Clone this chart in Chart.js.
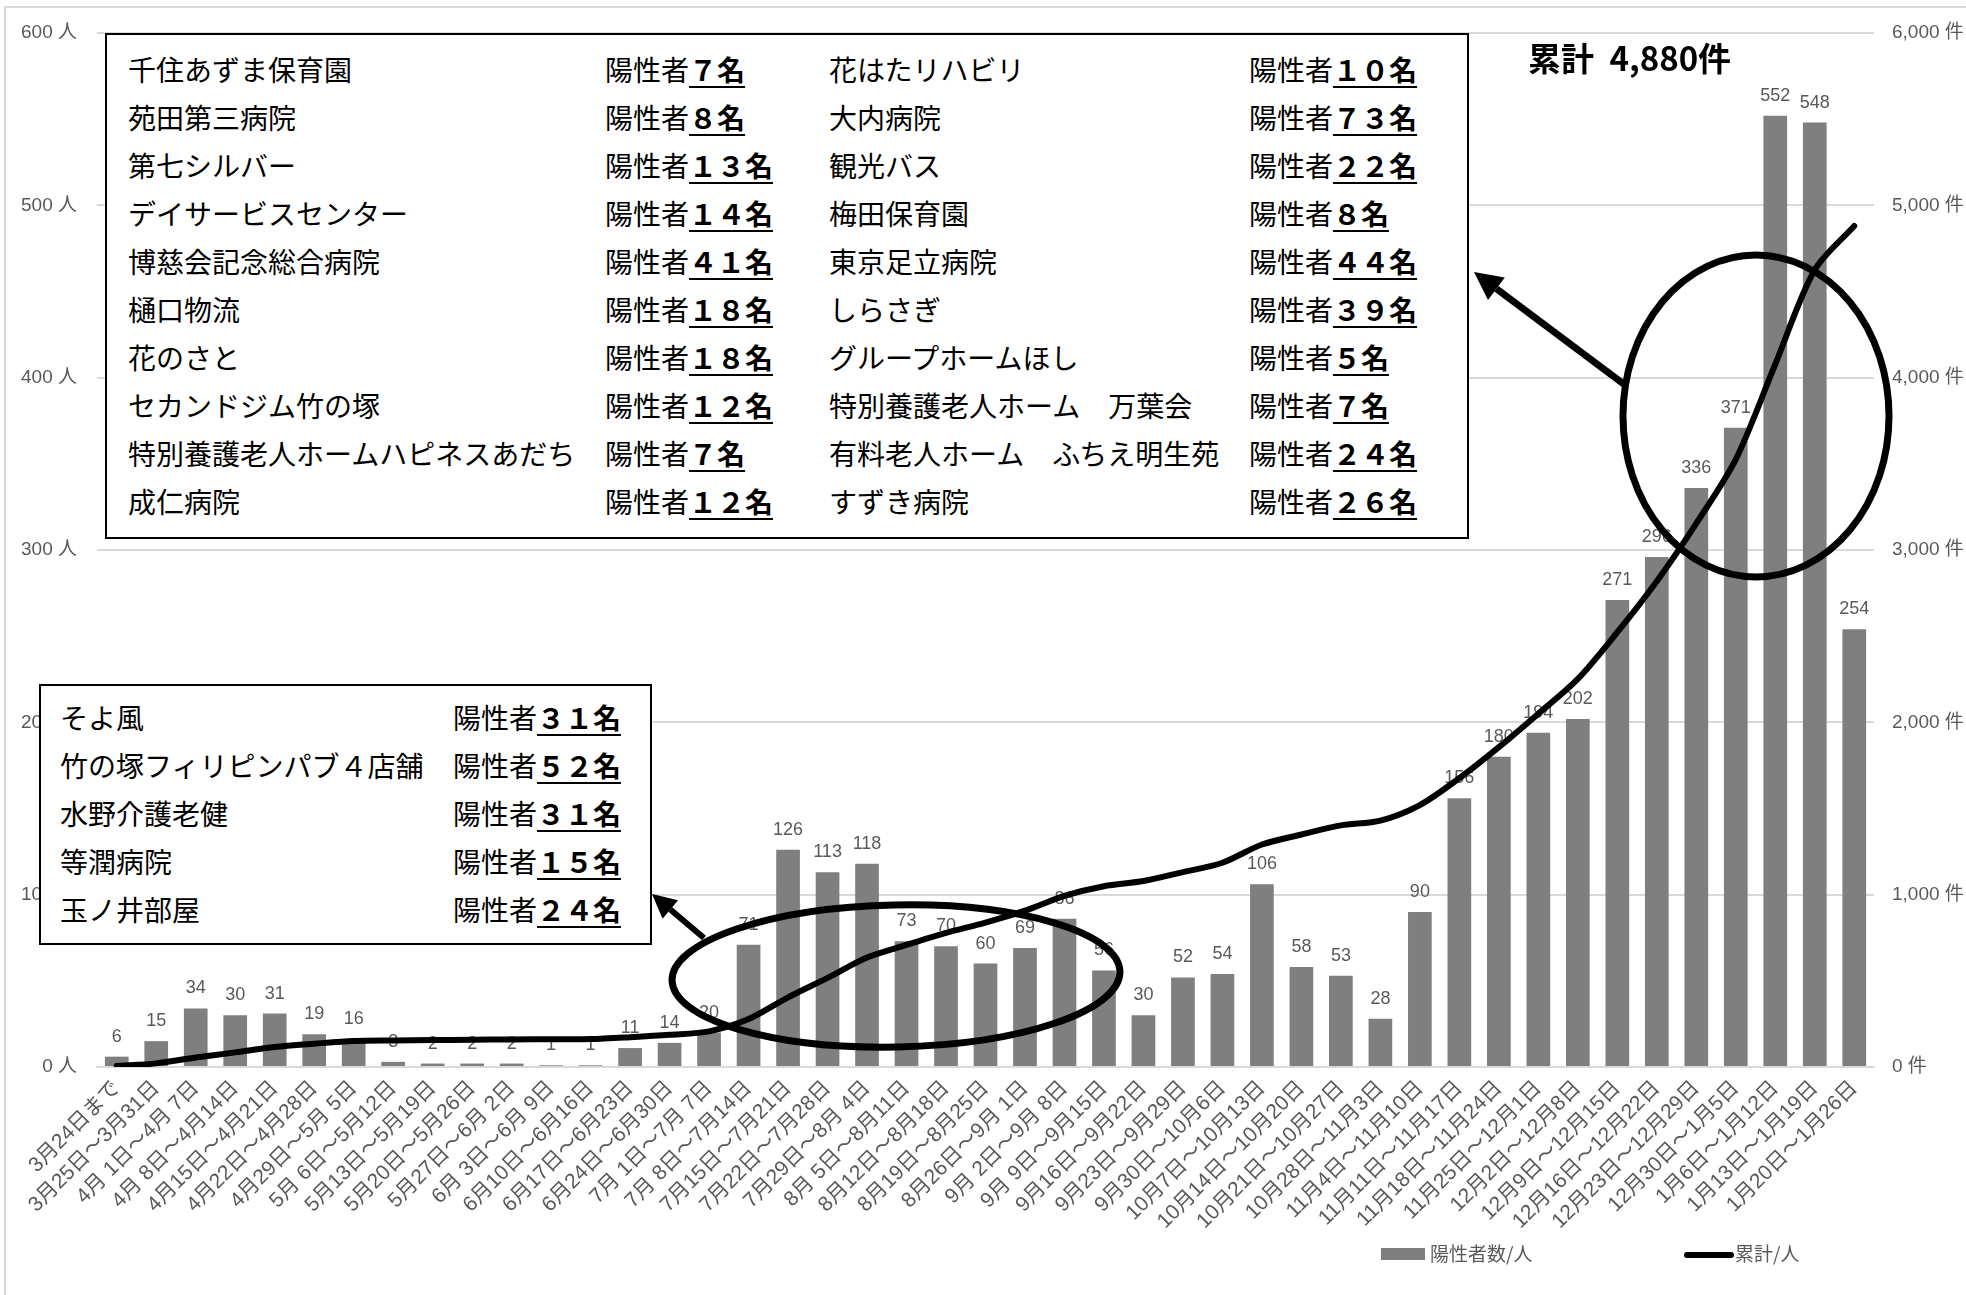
<!DOCTYPE html>
<html>
<head>
<meta charset="utf-8">
<script src="https://cdn.jsdelivr.net/npm/chart.js@4.4.1/dist/chart.umd.min.js"></script>
<style>
html,body{margin:0;padding:0;background:#fff;}
#wrap{position:relative;width:1966px;height:1295px;overflow:hidden;background:#fff;}
#c{position:absolute;left:0;top:0;}
.box{position:absolute;background:#fff;border:2px solid #000;box-sizing:border-box;}
.t{position:absolute;white-space:nowrap;font-family:"Noto Sans CJK JP",sans-serif;font-size:28px;line-height:48px;color:#000;}
.n{font-weight:bold;text-decoration:underline;text-decoration-thickness:2px;text-underline-offset:5px;}
#total{position:absolute;left:1528px;top:35px;white-space:nowrap;font-family:"Noto Sans CJK JP",sans-serif;font-weight:bold;font-size:33px;line-height:44px;word-spacing:8px;color:#000;}
</style>
</head>
<body>
<div id="wrap">
<canvas id="c" width="1966" height="1295"></canvas>
</div>
<script>
// ---- data ----
const categories = [
  "3月24日まで","3月25日～3月31日","4月 1日～4月 7日","4月 8日～4月14日","4月15日～4月21日",
  "4月22日～4月28日","4月29日～5月 5日","5月 6日～5月12日","5月13日～5月19日","5月20日～5月26日",
  "5月27日～6月 2日","6月 3日～6月 9日","6月10日～6月16日","6月17日～6月23日","6月24日～6月30日",
  "7月 1日～7月 7日","7月 8日～7月14日","7月15日～7月21日","7月22日～7月28日","7月29日～8月 4日",
  "8月 5日～8月11日","8月12日～8月18日","8月19日～8月25日","8月26日～9月 1日","9月 2日～9月 8日",
  "9月 9日～9月15日","9月16日～9月22日","9月23日～9月29日","9月30日～10月6日","10月7日～10月13日",
  "10月14日～10月20日","10月21日～10月27日","10月28日～11月3日","11月4日～11月10日","11月11日～11月17日",
  "11月18日～11月24日","11月25日～12月1日","12月2日～12月8日","12月9日～12月15日","12月16日～12月22日",
  "12月23日～12月29日","12月30日～1月5日","1月6日～1月12日","1月13日～1月19日","1月20日～1月26日"
];
const weeklyPositives = [6,15,34,30,31,19,16,3,2,2,2,1,1,11,14,20,71,126,113,118,73,70,60,69,86,56,30,52,54,106,58,53,28,90,156,180,194,202,271,296,336,371,552,548,254];
const cumulativeTotal = [6,21,55,85,116,135,151,154,156,158,160,161,162,173,187,207,278,404,517,635,708,778,838,907,993,1049,1079,1131,1185,1291,1349,1402,1430,1520,1676,1856,2050,2252,2523,2819,3155,3526,4078,4626,4880];
const leftTicks = [0,100,200,300,400,500,600];
const rightTicks = [0,1000,2000,3000,4000,5000,6000];
const seriesNames = ["陽性者数/人","累計/人"];
const totalText = "累計 4,880件";

const bigBoxLeft = ["千住あずま保育園","苑田第三病院","第七シルバー","デイサービスセンター","博慈会記念総合病院","樋口物流","花のさと","セカンドジム竹の塚","特別養護老人ホームハピネスあだち","成仁病院"];
const bigBoxLeftN = ["７","８","１３","１４","４１","１８","１８","１２","７","１２"];
const bigBoxRight = ["花はたリハビリ","大内病院","観光バス","梅田保育園","東京足立病院","しらさぎ","グループホームほし","特別養護老人ホーム　万葉会","有料老人ホーム　ふちえ明生苑","すずき病院"];
const bigBoxRightN = ["１０","７３","２２","８","４４","３９","５","７","２４","２６"];
const smallBoxNames = ["そよ風","竹の塚フィリピンパブ４店舗","水野介護老健","等潤病院","玉ノ井部屋"];
const smallBoxN = ["３１","５２","３１","１５","２４"];

// ---- annotation boxes (HTML text) ----
const wrap = document.getElementById('wrap');
function makeBox(left, top, w, h, cols, rowStart, names, nums, names2, nums2){
  const b = document.createElement('div');
  b.className = 'box';
  b.style.left = left+'px'; b.style.top = top+'px'; b.style.width = w+'px'; b.style.height = h+'px';
  const ox = left + 2, oy = top + 2;
  for (let i = 0; i < names.length; i++) {
    const cy = rowStart + 48*i;
    const add = (x, html) => {
      const d = document.createElement('div');
      d.className = 't';
      d.style.left = (x-ox)+'px'; d.style.top = (cy-25-oy)+'px';
      d.innerHTML = html; b.appendChild(d);
    };
    add(cols[0], names[i]);
    add(cols[1], '陽性者<span class="n">'+nums[i]+'名</span>');
    if (names2) {
      add(cols[2], names2[i]);
      add(cols[3], '陽性者<span class="n">'+nums2[i]+'名</span>');
    }
  }
  wrap.appendChild(b);
}
makeBox(105, 33, 1364, 506, [128,605,829,1249], 70, bigBoxLeft, bigBoxLeftN, bigBoxRight, bigBoxRightN);
makeBox(39, 684, 613, 261, [60,453], 718, smallBoxNames, smallBoxN, null, null);
const tt = document.createElement('div'); tt.id='total'; tt.textContent = totalText; wrap.appendChild(tt);

// ---- chart ----
const GREY_TXT = '#595959';
const BAR = '#7f7f7f';
const GRID = '#d9d9d9';
const NUMFONT = '"Liberation Sans","Noto Sans CJK JP",sans-serif';
Chart.defaults.font.family = NUMFONT;

const frame = {
  id:'frame',
  beforeDraw(chart){
    const c = chart.ctx;
    c.save();
    c.strokeStyle = GRID; c.lineWidth = 2;
    c.beginPath();
    c.moveTo(5, 1300); c.lineTo(5, 7); c.lineTo(1970, 7);
    c.stroke();
    c.restore();
  }
};

const barLabels = {
  id:'barLabels',
  afterDatasetDraw(chart, args){
    if (args.index !== 0) return;
    const c = chart.ctx;
    const meta = args.meta;
    c.save();
    c.fillStyle = GREY_TXT;
    c.font = '18px ' + NUMFONT;
    c.textAlign = 'center';
    c.textBaseline = 'alphabetic';
    meta.data.forEach((bar, i) => {
      c.fillText(String(weeklyPositives[i]), bar.x, bar.y - 15);
    });
    c.restore();
  }
};

function arrow(c, x1, y1, x2, y2, w, headLen, headW){
  const ang = Math.atan2(y2-y1, x2-x1);
  const bx = x2 - headLen*Math.cos(ang), by = y2 - headLen*Math.sin(ang);
  c.lineWidth = w; c.lineCap = 'butt';
  c.beginPath(); c.moveTo(x1,y1); c.lineTo(bx,by); c.stroke();
  c.beginPath();
  c.moveTo(x2,y2);
  c.lineTo(bx + headW/2*Math.sin(ang), by - headW/2*Math.cos(ang));
  c.lineTo(bx - headW/2*Math.sin(ang), by + headW/2*Math.cos(ang));
  c.closePath(); c.fill();
}

const overlays = {
  id:'overlays',
  afterDraw(chart){
    const c = chart.ctx;
    c.save();
    c.strokeStyle = '#000'; c.fillStyle = '#000';
    // ellipses
    c.lineWidth = 7;
    c.beginPath(); c.ellipse(1756, 416, 133, 161, 0, 0, Math.PI*2); c.stroke();
    c.beginPath(); c.ellipse(896, 976, 224, 71, -0.02, 0, Math.PI*2); c.stroke();
    // arrows
    arrow(c, 1625, 385, 1474, 272, 7, 28, 28);
    arrow(c, 704, 938, 652, 894, 6, 24, 24);
    // legend
    c.fillStyle = BAR;
    c.fillRect(1381, 1248, 44, 12);
    c.fillStyle = GREY_TXT;
    c.font = '19px "Noto Sans CJK JP",sans-serif';
    c.textBaseline = 'middle'; c.textAlign = 'left';
    c.fillText(seriesNames[0], 1430, 1254);
    c.strokeStyle = '#000'; c.lineWidth = 6; c.lineCap = 'round';
    c.beginPath(); c.moveTo(1687, 1255); c.lineTo(1731, 1255); c.stroke();
    c.fillText(seriesNames[1], 1735, 1254);
    c.restore();
  }
};

new Chart(document.getElementById('c'), {
  data: {
    labels: categories,
    datasets: [
      { type:'bar', label:seriesNames[0], data:weeklyPositives, backgroundColor:BAR,
        barPercentage:0.6, categoryPercentage:1.0, yAxisID:'y', order:2 },
      { type:'line', label:seriesNames[1], data:cumulativeTotal, borderColor:'#000', borderWidth:6,
        pointRadius:0, tension:0.3, yAxisID:'y2', order:1, borderCapStyle:'round', fill:false }
    ]
  },
  options: {
    responsive:false, animation:false, devicePixelRatio:1,
    layout:{ padding:{ top:33, left:0, right:0, bottom:0 } },
    plugins:{ legend:{ display:false }, tooltip:{ enabled:false } },
    scales:{
      x:{
        grid:{ display:false, drawTicks:false },
        border:{ display:true, color:GRID, width:2 },
        ticks:{ autoSkip:false, minRotation:45, maxRotation:45, padding:9, color:GREY_TXT,
                font:{ size:21, family:'"Liberation Sans","Noto Sans CJK JP",sans-serif' } },
        afterFit(s){ s.height = 228; }
      },
      y:{
        position:'left', min:0, max:600,
        afterBuildTicks(s){ s.ticks = leftTicks.map(v => ({ value:v })); },
        ticks:{ callback:v => v + ' 人', padding:20, color:GREY_TXT, font:{ size:19 } },
        grid:{ color:GRID, lineWidth:2, drawTicks:false },
        border:{ display:false },
        afterFit(s){ s.width = 97; }
      },
      y2:{
        position:'right', min:0, max:6000,
        afterBuildTicks(s){ s.ticks = rightTicks.map(v => ({ value:v })); },
        ticks:{ callback:v => v.toLocaleString('en-US') + ' 件', padding:18, color:GREY_TXT, font:{ size:19 } },
        grid:{ display:false, drawTicks:false },
        border:{ display:false },
        afterFit(s){ s.width = 92; }
      }
    }
  },
  plugins:[frame, barLabels, overlays]
});
</script>
</body>
</html>
